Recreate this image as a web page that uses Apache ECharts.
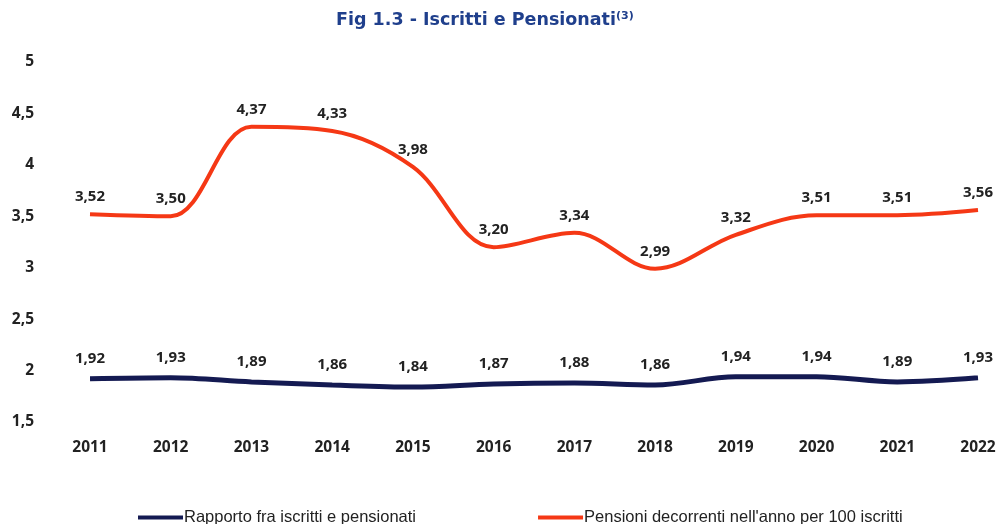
<!DOCTYPE html>
<html><head><meta charset="utf-8">
<script src="https://cdn.jsdelivr.net/npm/echarts@6/dist/echarts.min.js"></script>
<style>html,body{margin:0;padding:0;background:#fff}#c{width:1003px;height:524px}</style>
</head><body><div id="c"></div>
<script>
const categories = ['2011','2012','2013','2014','2015','2016','2017','2018','2019','2020','2021','2022'];
const rapporto = [1.92,1.93,1.89,1.86,1.84,1.87,1.88,1.86,1.94,1.94,1.89,1.93];
const pensioni = [3.52,3.50,4.37,4.33,3.98,3.20,3.34,2.99,3.32,3.51,3.51,3.56];
const yTicks = [1.5,2,2.5,3,3.5,4,4.5,5];

const fmt = v => String(v).replace('.', ',');
const fmt2 = v => v.toFixed(2).replace('.', ',');
const chart = echarts.init(document.getElementById('c'));
const labelStyle = {fontFamily:'Open Sans, Liberation Sans, sans-serif',fontWeight:'bold',fontSize:15,color:'#222'};
chart.setOption({
  animation:false,
  title:{text:'Fig 1.3 - Iscritti e Pensionati{s|(3)}',left:331,top:6,
    textStyle:{fontFamily:'DejaVu Sans, Verdana, sans-serif',fontWeight:'bold',fontSize:17.5,color:'#1f3f8c',
      rich:{s:{fontFamily:'DejaVu Sans, sans-serif',fontWeight:'bold',fontSize:11,color:'#1f3f8c',verticalAlign:'top',padding:[0,0,8,0]}}}},
  grid:{left:90,right:25,top:62,bottom:102,containLabel:false},
  legend:{top:504,left:133,itemGap:122,itemWidth:45,itemHeight:4,icon:'rect',
    textStyle:{fontFamily:'Liberation Sans, sans-serif',fontSize:16.5,color:'#222',padding:[0,0,0,-4]},
    data:['Rapporto fra iscritti e pensionati','Pensioni decorrenti nell\'anno per 100 iscritti']},
  xAxis:{type:'category',data:categories,boundaryGap:false,
    axisLine:{show:false},axisTick:{show:false},
    axisLabel:{margin:18,fontFamily:'Open Sans, Liberation Sans, sans-serif',fontWeight:'bold',fontSize:15.5,color:'#222'}},
  yAxis:{type:'value',min:1.5,max:5,interval:0.5,splitLine:{show:false},
    axisLabel:{margin:56,fontFamily:'Open Sans, Liberation Sans, sans-serif',fontWeight:'bold',fontSize:15.5,color:'#222',
      formatter:v=>yTicks.includes(v)?fmt(v):''}},
  series:[
    {name:'Rapporto fra iscritti e pensionati',type:'line',data:rapporto,smooth:0.35,symbol:'circle',symbolSize:0,showSymbol:true,
      lineStyle:{width:5,color:'#141a52'},itemStyle:{color:'#141a52'},
      label:{show:true,position:'top',distance:13,formatter:p=>fmt2(p.value),...labelStyle}},
    {name:'Pensioni decorrenti nell\'anno per 100 iscritti',type:'line',data:pensioni,smooth:0.35,symbol:'circle',symbolSize:0,showSymbol:true,
      lineStyle:{width:4,color:'#f53815'},itemStyle:{color:'#f53815'},
      label:{show:true,position:'top',distance:10,formatter:p=>fmt2(p.value),...labelStyle}}
  ]
});
</script></body></html>
